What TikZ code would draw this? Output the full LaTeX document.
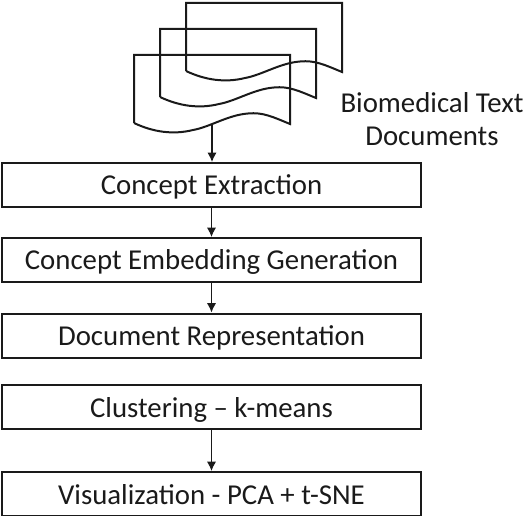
\documentclass[tikz,border=0pt]{standalone}
\usepackage{fontspec}
\setmainfont{Carlito}
\usepackage{xcolor}
\usetikzlibrary{arrows.meta,positioning}
\definecolor{rink}{HTML}{1A1A1A}
\tikzset{
  procbox/.style={draw=rink,line width=1.5pt,minimum width=314.5pt,minimum height=33pt,inner sep=0pt,text height=15pt,text depth=0pt,font=\fontsize{21.6}{26}\selectfont,text=rink},
  flow/.style={-{Latex[length=7pt,width=7pt]},rink,line width=1.1pt},
  sheet/.style={draw=rink,line width=1.5pt}
}
\begin{document}
\begin{tikzpicture}[x=0.75pt,y=-0.75pt]
  \useasboundingbox (0,0) rectangle (531,516);

  % stacked pages, back to front
  \foreach \d in {0,26,52}
    \draw[sheet,shift={(-\d,\d)}] (186,71) -- (186,3) -- (342,3) -- (342,72)
      .. controls (325,65) and (315,60) .. (300,61.5)
      .. controls (280,63) and (262,75) .. (245,78)
      .. controls (225,83) and (205,80) .. (186,71);
  \coordinate (pages) at (212,124);
  \node[align=center,font=\fontsize{21.6}{24.75}\selectfont,text=rink] (doclabel) at (432,119.5) {Biomedical Text\\Documents};

  \node[procbox] (extract) at (211.5,185) {Concept Extraction};
  \node[procbox] (embed) at (211.5,260) {Concept Embedding Generation};
  \node[procbox] (docrep) at (211.5,335.5) {Document Representation};
  \node[procbox] (cluster) at (211.5,407) {Clustering -- k-means};
  \node[procbox] (vis) at (211.5,494) {Visualization - PCA + t-SNE};

  \draw[flow] (pages) -- (pages |- extract.north);
  \draw[flow] (extract) -- (embed);
  \draw[flow] (embed) -- (docrep);
  \draw[flow] (cluster) -- (vis);
\end{tikzpicture}
\end{document}
